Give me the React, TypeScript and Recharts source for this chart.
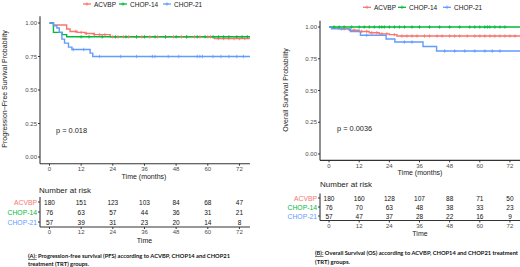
import React from 'react';
import { ComposedChart, Line, Scatter, XAxis, YAxis, ScatterChart } from 'recharts';

const RED = '#F8766D';
const GREEN = '#00BA38';
const BLUE = '#619CFF';
const COLORS = [RED, GREEN, BLUE];
const groups = ['ACVBP', 'CHOP-14', 'CHOP-21'];
const timeTicks = [0, 12, 24, 36, 48, 60, 72];
const survTicks = [0, 0.25, 0.5, 0.75, 1];
const TIME_DOMAIN: [number, number] = [-3.6, 76];

// PFS step curves
const pfsAcvbpTimes = [0, 1.5, 6.5, 7.8, 10.5, 13.5, 17, 23, 62.5, 76];
const pfsAcvbpSurv = [1, 0.985, 0.955, 0.937, 0.93, 0.922, 0.913, 0.897, 0.884, 0.884];
const pfsChop14Times = [0, 1.5, 4.8, 6.5, 76];
const pfsChop14Surv = [1, 0.93, 0.913, 0.897, 0.897];
const pfsChop21Times = [0, 1.5, 2.8, 3.7, 4.7, 5.7, 7.2, 8.5, 15.4, 16.4, 76];
const pfsChop21Surv = [1, 0.98, 0.963, 0.93, 0.88, 0.85, 0.82, 0.802, 0.775, 0.75, 0.75];

// PFS censor times
const pfsAcvbpCens = [10, 12, 14, 17, 19, 21, 24, 26, 28, 30, 33, 35, 38, 41, 44, 47, 50, 52, 55, 57, 60, 61, 64, 66, 68, 70, 72, 74];
const pfsChop14Cens = [12, 15, 20, 25, 29, 33, 36, 40, 44, 48, 52, 56, 59, 62, 64, 66, 68, 71, 73, 75];
const pfsChop21Cens = [9, 13, 19, 27, 33, 39, 40, 45, 49, 56, 57, 58, 62, 65, 68, 71, 73.5];

// OS step curves
const osAcvbpTimes = [0, 1, 4, 8, 12, 16, 20, 24, 27, 76];
const osAcvbpSurv = [1, 0.99, 0.985, 0.975, 0.965, 0.955, 0.946, 0.94, 0.929, 0.929];
const osChop14Times = [0, 76];
const osChop14Surv = [1, 1];
const osChop21Times = [0, 1, 8.5, 12.5, 22.7, 26.2, 37.4, 42.8, 76];
const osChop21Surv = [1, 0.985, 0.965, 0.935, 0.906, 0.882, 0.847, 0.811, 0.811];

// OS censor times
const osAcvbpCens = [6, 10, 13, 15, 17, 19, 21, 23, 26, 29, 31, 33, 35, 38, 40, 43, 45, 48, 50, 52, 55, 58, 60, 62, 64, 66, 68, 70, 72, 74];
const osChop14Cens = [2, 4, 6, 9, 12, 14, 16, 18, 20, 21, 22, 24, 26, 28, 30, 33, 36, 40, 44, 48, 52, 56, 58, 60, 62, 63, 64, 66, 68, 70];
const osChop21Cens = [5, 15, 30, 33, 46, 50, 54, 58, 62, 65, 68];

// Numbers at risk
const pfsRiskAcvbp = [180, 151, 123, 103, 84, 68, 47];
const pfsRiskChop14 = [76, 63, 57, 44, 36, 31, 21];
const pfsRiskChop21 = [57, 39, 31, 23, 20, 14, 8];
const osRiskAcvbp = [180, 160, 128, 107, 88, 71, 50];
const osRiskChop14 = [76, 70, 63, 48, 38, 33, 23];
const osRiskChop21 = [57, 47, 37, 28, 22, 16, 9];

const FONT = '"Liberation Sans", Arial, sans-serif';

type Pt = { t: number; s: number };
const steps = (times: number[], surv: number[]): Pt[] => times.map((t, i) => ({ t, s: surv[i] }));
const censorPts = (times: number[], surv: number[], cens: number[]): Pt[] =>
  cens.map((c) => {
    let s = surv[0];
    for (let i = 0; i < times.length; i++) if (times[i] <= c) s = surv[i];
    return { t: c, s };
  });

const plusShape = (color: string) => (p: any) => {
  const { cx, cy } = p;
  if (cx == null || cy == null) return <g />;
  return (
    <path
      d={`M${cx - 1.6},${cy}h3.2M${cx},${cy - 1.7}v3.4`}
      stroke={color}
      strokeWidth={0.8}
      fill="none"
    />
  );
};

type Series = { times: number[]; surv: number[]; cens: number[] };

const KM = ({ left, top, width, height, margin, yw, xh, series }: any) => (
  <div style={{ position: 'absolute', left, top }}>
    <ComposedChart width={width} height={height} margin={margin}>
      <XAxis
        dataKey="t"
        type="number"
        domain={TIME_DOMAIN}
        allowDataOverflow
        ticks={timeTicks}
        interval={0}
        height={xh}
        tickSize={2}
        tickMargin={1}
        tick={{ fontSize: 6, fill: '#4d4d4d', fontFamily: FONT }}
        axisLine={{ stroke: '#333', strokeWidth: 1.1 }}
        tickLine={{ stroke: '#333' }}
      />
      <YAxis
        dataKey="s"
        type="number"
        domain={[-0.05, 1.05]}
        allowDataOverflow
        ticks={survTicks}
        interval={0}
        width={yw}
        tickSize={2}
        tickMargin={1}
        tickFormatter={(v: number) => v.toFixed(2)}
        tick={{ fontSize: 6, fill: '#4d4d4d', fontFamily: FONT }}
        axisLine={{ stroke: '#333', strokeWidth: 1.1 }}
        tickLine={{ stroke: '#333' }}
      />
      {series.map((sr: Series, i: number) => (
        <Line
          key={'l' + i}
          data={steps(sr.times, sr.surv)}
          dataKey="s"
          type="stepAfter"
          stroke={COLORS[i]}
          strokeWidth={1.4}
          dot={false}
          activeDot={false}
          isAnimationActive={false}
        />
      ))}
      {series.map((sr: Series, i: number) => (
        <Scatter
          key={'c' + i}
          data={censorPts(sr.times, sr.surv, sr.cens)}
          dataKey="s"
          shape={plusShape(COLORS[i])}
          isAnimationActive={false}
        />
      ))}
    </ComposedChart>
  </div>
);

const rowTick = (labelSize: number) => (p: any) => {
  const { x, y, payload } = p;
  const idx = payload.value as number;
  return (
    <text
      x={x}
      y={y}
      textAnchor="end"
      dominantBaseline="central"
      fontSize={labelSize}
      fill={COLORS[idx]}
      fontFamily={FONT}
    >
      {groups[idx]}
    </text>
  );
};

const numShape = (p: any) => {
  const { cx, cy } = p;
  const n = p.payload ? p.payload.n : p.n;
  return (
    <text x={cx} y={cy} textAnchor="middle" dominantBaseline="central" fontSize={6.5} fill="#111" fontFamily={FONT}>
      {n}
    </text>
  );
};

const Risk = ({ left, top, width, height, margin, yw, xh, rows }: any) => (
  <div style={{ position: 'absolute', left, top }}>
    <ScatterChart width={width} height={height} margin={margin}>
      <XAxis
        dataKey="t"
        type="number"
        domain={TIME_DOMAIN}
        allowDataOverflow
        ticks={timeTicks}
        interval={0}
        height={xh}
        tickSize={2}
        tickMargin={1}
        tick={{ fontSize: 6, fill: '#4d4d4d', fontFamily: FONT }}
        axisLine={{ stroke: '#333', strokeWidth: 1.1 }}
        tickLine={{ stroke: '#333' }}
      />
      <YAxis
        dataKey="row"
        type="number"
        domain={[-0.5, 2.5]}
        reversed
        ticks={[0, 1, 2]}
        interval={0}
        width={yw}
        tickSize={2}
        tickMargin={1}
        tick={rowTick(6.8)}
        axisLine={{ stroke: '#333', strokeWidth: 1.1 }}
        tickLine={{ stroke: '#333' }}
      />
      {rows.map((r: number[], i: number) => (
        <Scatter
          key={i}
          data={r.map((n, j) => ({ t: timeTicks[j], row: i, n }))}
          shape={numShape}
          isAnimationActive={false}
        />
      ))}
    </ScatterChart>
  </div>
);

const LegendItem = ({ x, y, color, label }: any) => (
  <g>
    <line x1={x} x2={x + 8} y1={y} y2={y} stroke={color} strokeWidth={1.3} />
    <path d={`M${x + 2.4},${y}h3.2M${x + 4},${y - 1.7}v3.4`} stroke={color} strokeWidth={0.8} />
    <text x={x + 11} y={y} dominantBaseline="central" fontSize={6.5} fill="#222" fontFamily={FONT}>
      {label}
    </text>
  </g>
);

const Overlay = () => (
  <svg width={520} height={267} style={{ position: 'absolute', left: 0, top: 0, pointerEvents: 'none' }}>
    {/* Legends */}
    <LegendItem x={83} y={4} color={RED} label={groups[0]} />
    <LegendItem x={119} y={4} color={GREEN} label={groups[1]} />
    <LegendItem x={163} y={4} color={BLUE} label={groups[2]} />
    <LegendItem x={363} y={7.3} color={RED} label={groups[0]} />
    <LegendItem x={398} y={7.3} color={GREEN} label={groups[1]} />
    <LegendItem x={443} y={7.3} color={BLUE} label={groups[2]} />

    {/* Y axis titles */}
    <text x={4.5} y={89} transform="rotate(-90 4.5 89)" textAnchor="middle" dominantBaseline="central" fontSize={7} fill="#222" fontFamily={FONT}>
      Progression−Free Survival Probability
    </text>
    <text x={285} y={90} transform="rotate(-90 285 90)" textAnchor="middle" dominantBaseline="central" fontSize={7} fill="#222" fontFamily={FONT}>
      Overall Survival Probability
    </text>

    {/* p values */}
    <text x={56} y={130} dominantBaseline="central" fontSize={7.4} fill="#222" fontFamily={FONT}>p = 0.018</text>
    <text x={337} y={128} dominantBaseline="central" fontSize={7.4} fill="#222" fontFamily={FONT}>p = 0.0036</text>

    {/* X axis titles */}
    <text x={144} y={176.7} textAnchor="middle" dominantBaseline="central" fontSize={7} fill="#222" fontFamily={FONT}>Time (months)</text>
    <text x={420} y={172.7} textAnchor="middle" dominantBaseline="central" fontSize={7} fill="#222" fontFamily={FONT}>Time (months)</text>

    {/* Risk table titles */}
    <text x={39} y={190} dominantBaseline="central" fontSize={8} fill="#222" fontFamily={FONT}>Number at risk</text>
    <text x={320} y={184} dominantBaseline="central" fontSize={8} fill="#222" fontFamily={FONT}>Number at risk</text>
    <text x={144.5} y={240} textAnchor="middle" dominantBaseline="central" fontSize={7} fill="#222" fontFamily={FONT}>Time</text>
    <text x={420} y={233.3} textAnchor="middle" dominantBaseline="central" fontSize={7} fill="#222" fontFamily={FONT}>Time</text>

    {/* Captions */}
    <text x={28} y={255} dominantBaseline="central" fontSize={5.6} fontWeight={700} fill="#111" fontFamily="Lato, sans-serif" textLength={202} lengthAdjust="spacingAndGlyphs">
      <tspan textDecoration="underline">(A):</tspan> Progression-free survival (PFS) according to ACVBP,  CHOP14 and CHOP21
    </text>
    <text x={28} y={263.8} dominantBaseline="central" fontSize={5.6} fontWeight={700} fill="#111" fontFamily="Lato, sans-serif" textLength={61} lengthAdjust="spacingAndGlyphs">
      treatment (TRT) groups.
    </text>
    <text x={315} y={252} dominantBaseline="central" fontSize={5.6} fontWeight={700} fill="#111" fontFamily="Lato, sans-serif" textLength={203} lengthAdjust="spacingAndGlyphs">
      <tspan textDecoration="underline">(B):</tspan> Overall Survival (OS) according to ACVBP, CHOP14 and CHOP21 treatment
    </text>
    <text x={315} y={261} dominantBaseline="central" fontSize={5.6} fontWeight={700} fill="#111" fontFamily="Lato, sans-serif" textLength={35} lengthAdjust="spacingAndGlyphs">
      (TRT) groups.
    </text>
  </svg>
);

export default function App() {
  const pfsSeries: Series[] = [
    { times: pfsAcvbpTimes, surv: pfsAcvbpSurv, cens: pfsAcvbpCens },
    { times: pfsChop14Times, surv: pfsChop14Surv, cens: pfsChop14Cens },
    { times: pfsChop21Times, surv: pfsChop21Surv, cens: pfsChop21Cens },
  ];
  const osSeries: Series[] = [
    { times: osAcvbpTimes, surv: osAcvbpSurv, cens: osAcvbpCens },
    { times: osChop14Times, surv: osChop14Surv, cens: osChop14Cens },
    { times: osChop21Times, surv: osChop21Surv, cens: osChop21Cens },
  ];
  return (
    <div style={{ position: 'absolute', left: 0, top: 0, width: 520, height: 267, background: '#fff', overflow: 'hidden', fontFamily: FONT }}>
      <KM left={0} top={0} width={260} height={185} margin={{ top: 16.3, right: 10, bottom: 0, left: 0 }} yw={40} xh={21.3} series={pfsSeries} />
      <KM left={260} top={0} width={260} height={185} margin={{ top: 20.65, right: 0, bottom: 0, left: 0 }} yw={60} xh={24.65} series={osSeries} />
      <Risk left={0} top={190} width={260} height={55} margin={{ top: 7, right: 10, bottom: 0, left: 0 }} yw={40} xh={18} rows={[pfsRiskAcvbp, pfsRiskChop14, pfsRiskChop21]} />
      <Risk left={260} top={180} width={260} height={55} margin={{ top: 13.5, right: 0, bottom: 0, left: 0 }} yw={60} xh={14.5} rows={[osRiskAcvbp, osRiskChop14, osRiskChop21]} />
      <Overlay />
    </div>
  );
}
